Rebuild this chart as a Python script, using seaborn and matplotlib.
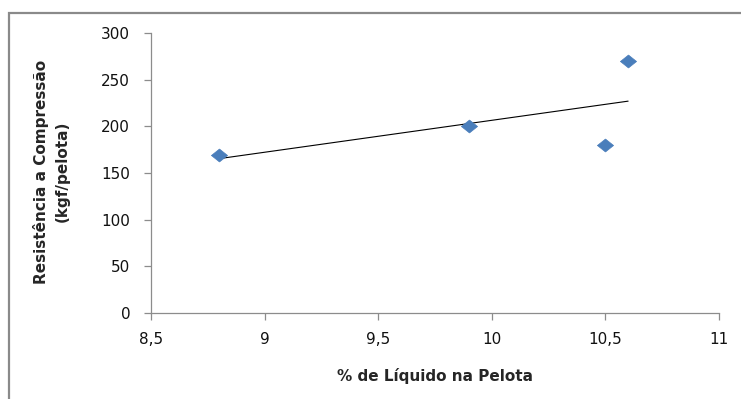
import matplotlib
matplotlib.use("Agg")
import matplotlib.pyplot as plt
from matplotlib.patches import Rectangle
import numpy as np
import pandas as pd
import seaborn as sns

# dados
liquido = [8.8, 9.9, 10.5, 10.6]
resistencia = [169, 200, 180, 270]
xticks = [8.5, 9, 9.5, 10, 10.5, 11]
yticks = [0, 50, 100, 150, 200, 250, 300]

df = pd.DataFrame({"liquido": liquido, "resistencia": resistencia})

sns.set_style("white")
plt.rcParams["font.family"] = ["DejaVu Sans"]

fig = plt.figure(figsize=(7.41, 3.99), dpi=100)
ax = fig.add_axes([0.2038, 0.2155, 0.7665, 0.7018])

# linha de tendência linear (estilo Excel)
sns.regplot(data=df, x="liquido", y="resistencia", ax=ax, scatter=False,
            ci=None, truncate=True, line_kws={"color": "black", "lw": 0.8})

diamante = [(-1, 0), (0, 0.8), (1, 0), (0, -0.8), (-1, 0)]
sns.scatterplot(data=df, x="liquido", y="resistencia", ax=ax, marker=diamante,
                s=135, color="#4A7EBB", edgecolor="#4A7EBB", linewidth=0.5, zorder=3)

ax.set_xlim(8.5, 11)
ax.set_ylim(0, 300)
ax.set_xticks(xticks)
ax.set_yticks(yticks)
ax.set_xticklabels([f"{t:g}".replace(".", ",") for t in xticks])
ax.set_yticklabels([str(t) for t in yticks])

for s in ["top", "right"]:
    ax.spines[s].set_visible(False)
for s in ["left", "bottom"]:
    ax.spines[s].set_color("#8c8c8c")
    ax.spines[s].set_linewidth(0.9)
ax.tick_params(axis="both", direction="out", length=5, width=0.9, color="#8c8c8c",
               labelsize=11, labelcolor="#111111", bottom=True, left=True)
ax.tick_params(axis="x", pad=9)
ax.tick_params(axis="y", pad=10)

ax.set_xlabel("% de Líquido na Pelota", fontsize=11, fontweight="bold")
ax.set_ylabel("Resistência a Compressão\n(kgf/pelota)", fontsize=11,
              fontweight="bold", linespacing=1.45)
ax.xaxis.set_label_coords(0.5, -0.195)
ax.yaxis.set_label_coords(-0.143, 0.505)

# moldura cinza do gráfico
fig.patches.append(Rectangle((9 / 741, -0.05), 1.1, 1 - 13 / 399 + 0.05,
                             transform=fig.transFigure, fill=False,
                             edgecolor="#8a8a8a", lw=1.6, clip_on=False))

fig.savefig("out.png", dpi=100)
plt.close(fig)
